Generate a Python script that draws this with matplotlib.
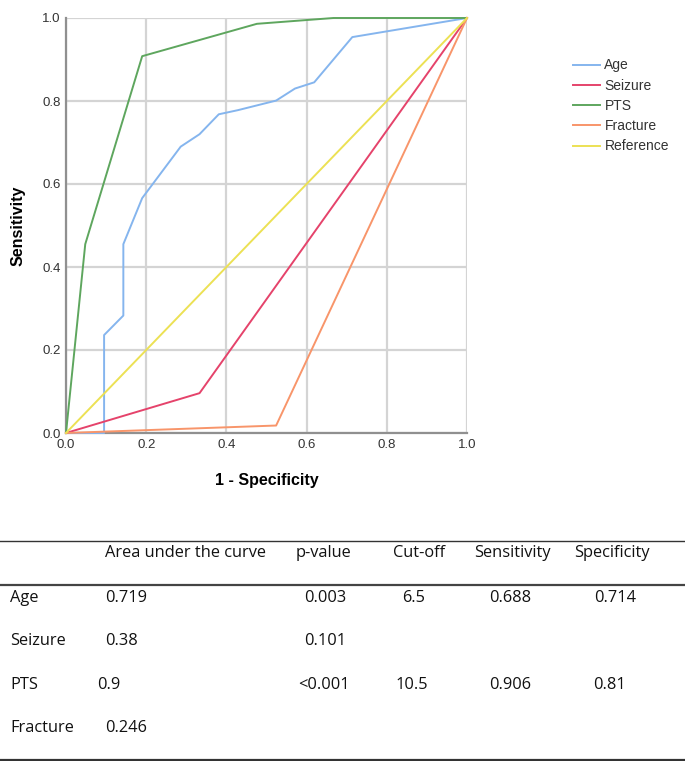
import matplotlib
matplotlib.use("Agg")
import matplotlib.pyplot as plt
from matplotlib.lines import Line2D

# ROC data (1 - specificity, sensitivity)
age_fpr = [0.0, 0.095, 0.095, 0.143, 0.143, 0.19, 0.286, 0.333, 0.381, 0.429, 0.524, 0.571, 0.619, 0.714, 1.0]
age_tpr = [0.0, 0.0, 0.236, 0.283, 0.455, 0.566, 0.690, 0.720, 0.768, 0.778, 0.801, 0.830, 0.845, 0.954, 1.0]
seizure_fpr = [0.0, 0.333, 1.0]
seizure_tpr = [0.0, 0.096, 1.0]
pts_fpr = [0.0, 0.048, 0.19, 0.476, 0.667, 1.0]
pts_tpr = [0.0, 0.455, 0.908, 0.986, 1.0, 1.0]
fracture_fpr = [0.0, 0.524, 1.0]
fracture_tpr = [0.0, 0.018, 1.0]
ref_fpr = [0.0, 1.0]
ref_tpr = [0.0, 1.0]

series_names = ["Age", "Seizure", "PTS", "Fracture", "Reference"]
series_colors = ["#85b5ee", "#e5436b", "#5ea65e", "#f8956a", "#ece154"]

ticks = [0.0, 0.2, 0.4, 0.6, 0.8, 1.0]
tick_labels = ["0.0", "0.2", "0.4", "0.6", "0.8", "1.0"]

# Table
table_header = ["", "Area under the curve", "p-value", "Cut-off", "Sensitivity", "Specificity"]
table_rows = [
    ["Age", "0.719", "0.003", "6.5", "0.688", "0.714"],
    ["Seizure", "0.38", "0.101", "", "", ""],
    ["PTS", "0.9", "<0.001", "10.5", "0.906", "0.81"],
    ["Fracture", "0.246", "", "", "", ""],
]

W, H = 685, 761
fig = plt.figure(figsize=(W / 100, H / 100), dpi=100)
fig.patch.set_facecolor("white")

ax = fig.add_axes([66 / W, 1 - 433 / H, (467 - 66) / W, (433 - 18) / H])
data = [(age_fpr, age_tpr), (seizure_fpr, seizure_tpr), (pts_fpr, pts_tpr),
        (fracture_fpr, fracture_tpr), (ref_fpr, ref_tpr)]
order = [4, 3, 1, 0, 2]
for i in order:
    x, y = data[i]
    ax.plot(x, y, color=series_colors[i], lw=1.4, zorder=3 + i * 0.1, clip_on=False)

ax.set_xlim(0, 1)
ax.set_ylim(0, 1)
ax.set_xticks(ticks)
ax.set_yticks(ticks)
ax.set_xticklabels(tick_labels)
ax.set_yticklabels(tick_labels)
ax.tick_params(length=0, labelsize=9.5, labelcolor="#333333", pad=4)
for lab in ax.get_xticklabels() + ax.get_yticklabels():
    lab.set_family("Liberation Sans")
ax.grid(True, color="#d4d4d4", lw=1.6, zorder=0)
ax.set_axisbelow(True)
for s in ["top", "right"]:
    ax.spines[s].set_visible(False)
for s in ["left", "bottom"]:
    ax.spines[s].set_color("#909090")
    ax.spines[s].set_linewidth(1.6)

ax.set_xlabel("1 - Specificity", fontsize=11.5, fontweight="bold", family="Liberation Sans", labelpad=16)
ax.set_ylabel("Sensitivity", fontsize=11.5, fontweight="bold", family="Liberation Sans", labelpad=12)

handles = [Line2D([0], [0], color=c, lw=1.4) for c in series_colors]
fig.legend(handles, series_names, loc="upper left", bbox_to_anchor=(560 / W, 1 - 46 / H),
           frameon=False, prop={"family": "Liberation Sans", "size": 10},
           handlelength=2.0, handletextpad=0.3, labelspacing=0.45, labelcolor="#333333")

# Table
tfont = {"family": "Open Sans", "size": 11.8, "color": "#111111"}
def fx(px):
    return px / W
def fy(py):
    return 1 - py / H

fig.add_artist(Line2D([0, 1], [fy(541), fy(541)], color="#333333", lw=1.0))
fig.add_artist(Line2D([0, 1], [fy(584.5), fy(584.5)], color="#444444", lw=1.6))
fig.add_artist(Line2D([0, 1], [fy(760), fy(760)], color="#333333", lw=1.6))

header_x = [10, 105, 296, 393, 474, 574]
fig_text_kw = dict(ha="left", va="center", fontdict=tfont)
for x, t in zip(header_x, table_header):
    fig.text(fx(x), fy(553), t, **fig_text_kw)

row_y = [598, 641, 685, 728]
cell_x = [
    [10, 105, 304, 402, 489, 594],
    [10, 105, 304, 402, 489, 594],
    [10, 97, 298, 395, 489, 593],
    [10, 105, 304, 402, 489, 594],
]
for r, row in enumerate(table_rows):
    for c, t in enumerate(row):
        if t:
            fig.text(fx(cell_x[r][c]), fy(row_y[r]), t, **fig_text_kw)

fig.savefig("out.png", dpi=100, facecolor="white")
